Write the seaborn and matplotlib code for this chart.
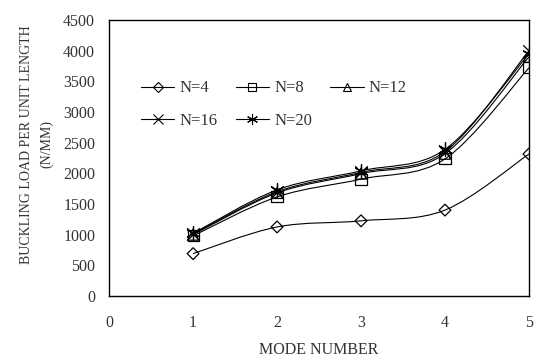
"""
Carga de flambagem por modo (curvas suavizadas estilo Excel).
"""

import numpy as np
import pandas as pd
import matplotlib
matplotlib.use("Agg")
import matplotlib.pyplot as plt
import seaborn as sns
from matplotlib.path import Path
from matplotlib.patches import PathPatch
from matplotlib.lines import Line2D

# Dados
modes = [1, 2, 3, 4, 5]
n4 = [690, 1125, 1225, 1400, 2315]
n8 = [980, 1615, 1905, 2235, 3720]
n12 = [1000, 1680, 1995, 2320, 3900]
n16 = [1010, 1700, 2015, 2355, 4000]
n20 = [1020, 1730, 2040, 2390, 3950]
labels = ["N=4", "N=8", "N=12", "N=16", "N=20"]

series = [n4, n8, n12, n16, n20]
markers = ["D", "s", "^", "x", (6, 2, 0)]
msizes = [6, 8, 8, 9, 10]

TEXT = "#333333"


def smooth_path(x, y):
    # curva de Bezier tipo Catmull-Rom (suavizacao do Excel)
    pts = np.column_stack([x, y]).astype(float)
    verts = [pts[0]]
    codes = [Path.MOVETO]
    n = len(pts)
    for i in range(n - 1):
        p0 = pts[max(i - 1, 0)]
        p1 = pts[i]
        p2 = pts[i + 1]
        p3 = pts[min(i + 2, n - 1)]
        c1 = p1 + (p2 - p0) / 6.0
        c2 = p2 - (p3 - p1) / 6.0
        verts += [c1, c2, p2]
        codes += [Path.CURVE4] * 3
    return Path(verts, codes)


def main():
    sns.set_style("white")
    plt.rcParams["font.family"] = ["Liberation Serif", "DejaVu Serif"]

    fig, ax = plt.subplots(figsize=(5.51, 3.64), dpi=100)
    fig.subplots_adjust(left=0.198, right=0.960, top=0.945, bottom=0.187)

    handles = []
    for vals, lab, mk, ms in zip(series, labels, markers, msizes):
        df = pd.DataFrame({"mode": modes, "load": vals})
        patch = PathPatch(smooth_path(df["mode"], df["load"]), facecolor="none",
                          edgecolor="black", linewidth=0.8, transform=ax.transData)
        ax.add_patch(patch)
        filled = mk in ("D", "s", "^")
        sns.scatterplot(data=df, x="mode", y="load", ax=ax, marker=mk,
                        s=ms ** 2, facecolors="none" if filled else "black",
                        edgecolor="black", linewidth=0.9, zorder=3)
        handles.append(Line2D([], [], color="black", linewidth=0.8, marker=mk,
                              markersize=ms * 0.8, markerfacecolor="none",
                              markeredgecolor="black", markeredgewidth=0.8, label=lab))

    ax.set_xlim(0, 5)
    ax.set_ylim(0, 4500)
    ax.set_xticks(range(0, 6))
    ax.set_yticks(range(0, 4501, 500))
    ax.tick_params(axis="x", direction="out", length=4, width=1, colors="black",
                   labelcolor=TEXT, labelsize=11.5, pad=10)
    ax.tick_params(axis="y", length=0, labelcolor=TEXT, labelsize=11.5, pad=10)

    for sp in ax.spines.values():
        sp.set_visible(True)
        sp.set_color("black")
        sp.set_linewidth(1.0)

    ax.set_xlabel("MODE NUMBER", fontsize=11.5, color=TEXT, labelpad=8)
    ax.set_ylabel("BUCKLING LOAD PER UNIT LENGTH\n(N/MM)", fontsize=10,
                  color=TEXT, linespacing=1.7)
    ax.yaxis.set_label_coords(-0.133, 0.55)

    # ordem por linha: N=4, N=8, N=12 / N=16, N=20
    order = [0, 3, 1, 4, 2]
    leg = ax.legend(handles=[handles[i] for i in order], ncol=3, loc="upper left",
                    bbox_to_anchor=(0.06, 0.805), frameon=False, fontsize=12,
                    handlelength=2.0, columnspacing=1.1, labelspacing=1.0,
                    handletextpad=0.3, borderaxespad=0)
    for t in leg.get_texts():
        t.set_color(TEXT)

    plt.savefig("out.png", dpi=100)
    plt.close()


if __name__ == "__main__":
    main()
